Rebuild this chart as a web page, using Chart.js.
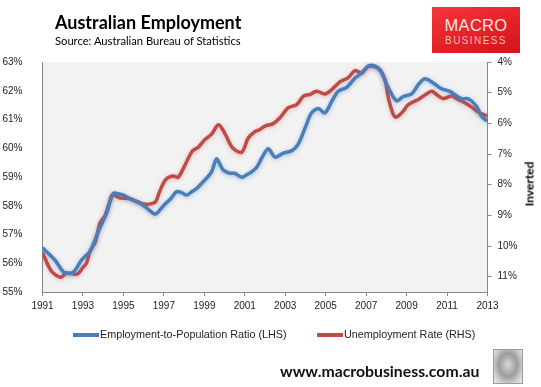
<!DOCTYPE html>
<html>
<head>
<meta charset="utf-8">
<script src="https://cdn.jsdelivr.net/npm/chart.js@4"></script>
<style>
  body { margin: 0; width: 541px; height: 387px; background: #fff; position: relative; overflow: hidden; font-family: "Liberation Sans", Arial, sans-serif; }
  #chart { position: absolute; left: 0; top: 0; }
  .abs { position: absolute; white-space: nowrap; }
  #title { left: 55px; top: 11px; font: bold 18px Lato, sans-serif; color: #000; }
  #sub { left: 55px; top: 34px; font: 11.2px Lato, sans-serif; color: #000; }
  #logo { left: 432px; top: 7px; width: 88px; height: 46px; background: linear-gradient(160deg, #f2383c 0%, #e42127 55%, #cf161c 100%); }
  #logo .m { position: absolute; left: 0; width: 88px; top: 9px; text-align: center; font: 16.5px "Liberation Sans", sans-serif; color: #fde3e3; letter-spacing: 0.3px; }
  #logo .b { position: absolute; left: 0; width: 88px; top: 28px; text-align: center; font: 10px "Liberation Sans", sans-serif; color: #f8b9b9; letter-spacing: 1.4px; }
  #inv { left: 529px; top: 184px; font: bold 12px Lato, sans-serif; transform: translate(-50%, -50%) rotate(-90deg); }
  .sw { position: absolute; height: 4px; top: 333px; }
  .lg { top: 328px; font-size: 10.8px; color: #222; }
  #foot { left: 280px; top: 361px; font: bold 15.8px Lato, sans-serif; color: #111; }
  #wolf { left: 493px; top: 349px; width: 28px; height: 33px; border: 1px solid #9a9a9a; background: radial-gradient(ellipse at 50% 45%, #d8d8d8 0%, #9c9c9c 45%, #cfcfcf 75%, #eeeeee 100%); }
</style>
</head>
<body>
<canvas id="chart" width="541" height="387"></canvas>
<div class="abs" id="title">Australian Employment</div>
<div class="abs" id="sub">Source: Australian Bureau of Statistics</div>
<div class="abs" id="logo"><div class="m">MACRO</div><div class="b">BUSINESS</div></div>
<div class="abs" id="inv">Inverted</div>
<div class="sw" style="left:73px;width:26px;background:#4a7ebb"></div>
<div class="abs lg" style="left:100px">Employment-to-Population Ratio (LHS)</div>
<div class="sw" style="left:317px;width:26px;background:#be4b48"></div>
<div class="abs lg" style="left:344px">Unemployment Rate (RHS)</div>
<div class="abs" id="foot">www.macrobusiness.com.au</div>
<div class="abs" id="wolf"></div>
<script>
// employment-to-population ratio, % (left axis)
const empYears = [1991.0, 1991.35, 1991.62, 1991.95, 1992.1, 1992.5, 1992.93, 1993.18, 1993.35, 1993.76,
  1994.17, 1994.5, 1994.75, 1995.0, 1995.4, 1995.82, 1996.1, 1996.56, 1996.8, 1997.05,
  1997.35, 1997.63, 1997.9, 1998.13, 1998.4, 1998.62, 1998.9, 1999.1, 1999.36, 1999.6,
  1999.8, 1999.94, 2000.27, 2000.5, 2000.85, 2001.1, 2001.34, 2001.6, 2001.84, 2002.16,
  2002.5, 2002.9, 2003.32, 2003.65, 2003.98, 2004.3, 2004.64, 2004.96, 2005.3, 2005.62,
  2006.04, 2006.45, 2006.78, 2007.1, 2007.35, 2007.68, 2008.1, 2008.5, 2008.84, 2009.25,
  2009.58, 2009.9, 2010.32, 2010.73, 2011.14, 2011.39, 2011.72, 2012.05, 2012.46, 2012.7, 2013.0];
const empRatio = [56.54, 56.3, 56.11, 55.77, 55.67, 55.67, 56.11, 56.29, 56.4, 57.1,
  57.74, 58.43, 58.42, 58.37, 58.22, 58.08, 57.95, 57.71, 57.85, 58.05,
  58.25, 58.49, 58.45, 58.37, 58.5, 58.6, 58.8, 58.95, 59.18, 59.63,
  59.4, 59.24, 59.13, 59.13, 58.99, 59.08, 59.18, 59.35, 59.66, 59.98,
  59.69, 59.83, 59.91, 60.15, 60.7, 61.23, 61.38, 61.23, 61.63, 61.98,
  62.12, 62.44, 62.62, 62.85, 62.88, 62.73, 62.1, 61.65, 61.8, 61.89,
  62.21, 62.42, 62.27, 62.07, 61.98, 61.86, 61.72, 61.72, 61.46, 61.11, 60.94];

// unemployment rate, % (right axis, inverted)
const unempYears = [1991.0, 1991.37, 1991.6, 1991.9, 1992.2, 1992.7, 1993.0, 1993.18, 1993.35, 1993.6,
  1993.85, 1994.1, 1994.42, 1994.5, 1994.8, 1995.3, 1995.82, 1996.07, 1996.4, 1996.6,
  1996.8, 1997.1, 1997.46, 1997.7, 1998.0, 1998.4, 1998.7, 1999.03, 1999.36, 1999.7,
  2000.0, 2000.4, 2000.85, 2001.17, 2001.5, 2001.75, 2002.0, 2002.4, 2002.74, 2003.15,
  2003.57, 2003.9, 2004.22, 2004.55, 2004.96, 2005.3, 2005.7, 2006.1, 2006.45, 2006.78,
  2007.1, 2007.4, 2007.68, 2007.93, 2008.1, 2008.34, 2008.5, 2008.84, 2009.08, 2009.58,
  2009.9, 2010.24, 2010.48, 2010.8, 2011.22, 2011.55, 2011.88, 2012.22, 2012.54, 2013.0];
const unempRate = [10.21, 10.75, 10.92, 11.02, 10.88, 10.92, 10.7, 10.55, 10.16, 9.89,
  9.24, 9.0, 8.35, 8.32, 8.43, 8.45, 8.59, 8.64, 8.62, 8.55,
  8.21, 7.83, 7.72, 7.76, 7.42, 6.91, 6.78, 6.53, 6.35, 6.05,
  6.31, 6.8, 6.94, 6.48, 6.27, 6.2, 6.09, 6.01, 5.82, 5.49,
  5.39, 5.11, 5.06, 4.95, 5.04, 4.9, 4.65, 4.52, 4.28, 4.36,
  4.14, 4.15, 4.25, 4.57, 5.17, 5.71, 5.8, 5.6, 5.39, 5.22,
  5.08, 4.95, 5.06, 5.19, 5.11, 5.22, 5.33, 5.47, 5.63, 5.76];

const yearTicks = [1991, 1993, 1995, 1997, 1999, 2001, 2003, 2005, 2007, 2009, 2011, 2013];
const leftTicks = [55, 56, 57, 58, 59, 60, 61, 62, 63];
const rightTicks = [4, 5, 6, 7, 8, 9, 10, 11];

const axisGrey = '#868686';
const tickFont = { family: 'Liberation Sans', size: 10 };

const plotBg = {
  id: 'plotBg',
  beforeDraw(chart) {
    const a = chart.chartArea, c = chart.ctx;
    c.save();
    c.fillStyle = '#f2f2f2';
    c.fillRect(a.left, a.top, a.right - a.left, a.bottom - a.top);
    c.restore();
  },
  beforeDatasetDraw(chart, args) {
    // soft glow under the lines, like the Excel original
    const c = chart.ctx;
    c.save();
    c.shadowColor = args.index === 0 ? 'rgba(74,126,187,0.45)' : 'rgba(190,75,72,0.35)';
    c.shadowBlur = 4;
    c.shadowOffsetY = 1;
  },
  afterDatasetDraw(chart) {
    chart.ctx.restore();
  }
};

new Chart(document.getElementById('chart'), {
  type: 'line',
  data: {
    datasets: [{
      label: 'Employment-to-Population Ratio (LHS)',
      data: empYears.map((x, i) => ({ x: x, y: empRatio[i] })),
      borderColor: '#4a7ebb',
      borderWidth: 3.5,
      pointRadius: 0,
      tension: 0.3,
      yAxisID: 'y'
    }, {
      label: 'Unemployment Rate (RHS)',
      data: unempYears.map((x, i) => ({ x: x, y: unempRate[i] })),
      borderColor: '#be4b48',
      borderWidth: 3.5,
      pointRadius: 0,
      tension: 0.3,
      yAxisID: 'y2'
    }]
  },
  options: {
    responsive: false,
    animation: false,
    layout: { padding: { top: 62, bottom: 75, left: 0, right: 0 } },
    plugins: { legend: { display: false }, tooltip: { enabled: false } },
    scales: {
      x: {
        type: 'linear', min: 1991, max: 2013,
        afterBuildTicks: s => { s.ticks = yearTicks.map(v => ({ value: v })); },
        afterFit: s => { s.height = 20; },
        ticks: { callback: v => String(v), font: tickFont, color: '#222', padding: 4, maxRotation: 0 },
        grid: { display: true, drawOnChartArea: false, tickLength: 4, color: axisGrey },
        border: { color: axisGrey }
      },
      y: {
        position: 'left', min: 55, max: 63,
        afterBuildTicks: s => { s.ticks = leftTicks.map(v => ({ value: v })); },
        afterFit: s => { s.width = 42.5; },
        ticks: { callback: v => v + '%', font: tickFont, color: '#222', padding: 12 },
        grid: { display: false },
        border: { color: axisGrey }
      },
      y2: {
        position: 'right', reverse: true, min: 4, max: 11.5,
        afterBuildTicks: s => { s.ticks = rightTicks.map(v => ({ value: v })); },
        afterFit: s => { s.width = 53.5; },
        ticks: { callback: v => v + '%', font: tickFont, color: '#222', padding: 6 },
        grid: { display: true, drawOnChartArea: false, tickLength: 4, color: axisGrey },
        border: { color: axisGrey }
      }
    }
  },
  plugins: [plotBg]
});
</script>
</body>
</html>
